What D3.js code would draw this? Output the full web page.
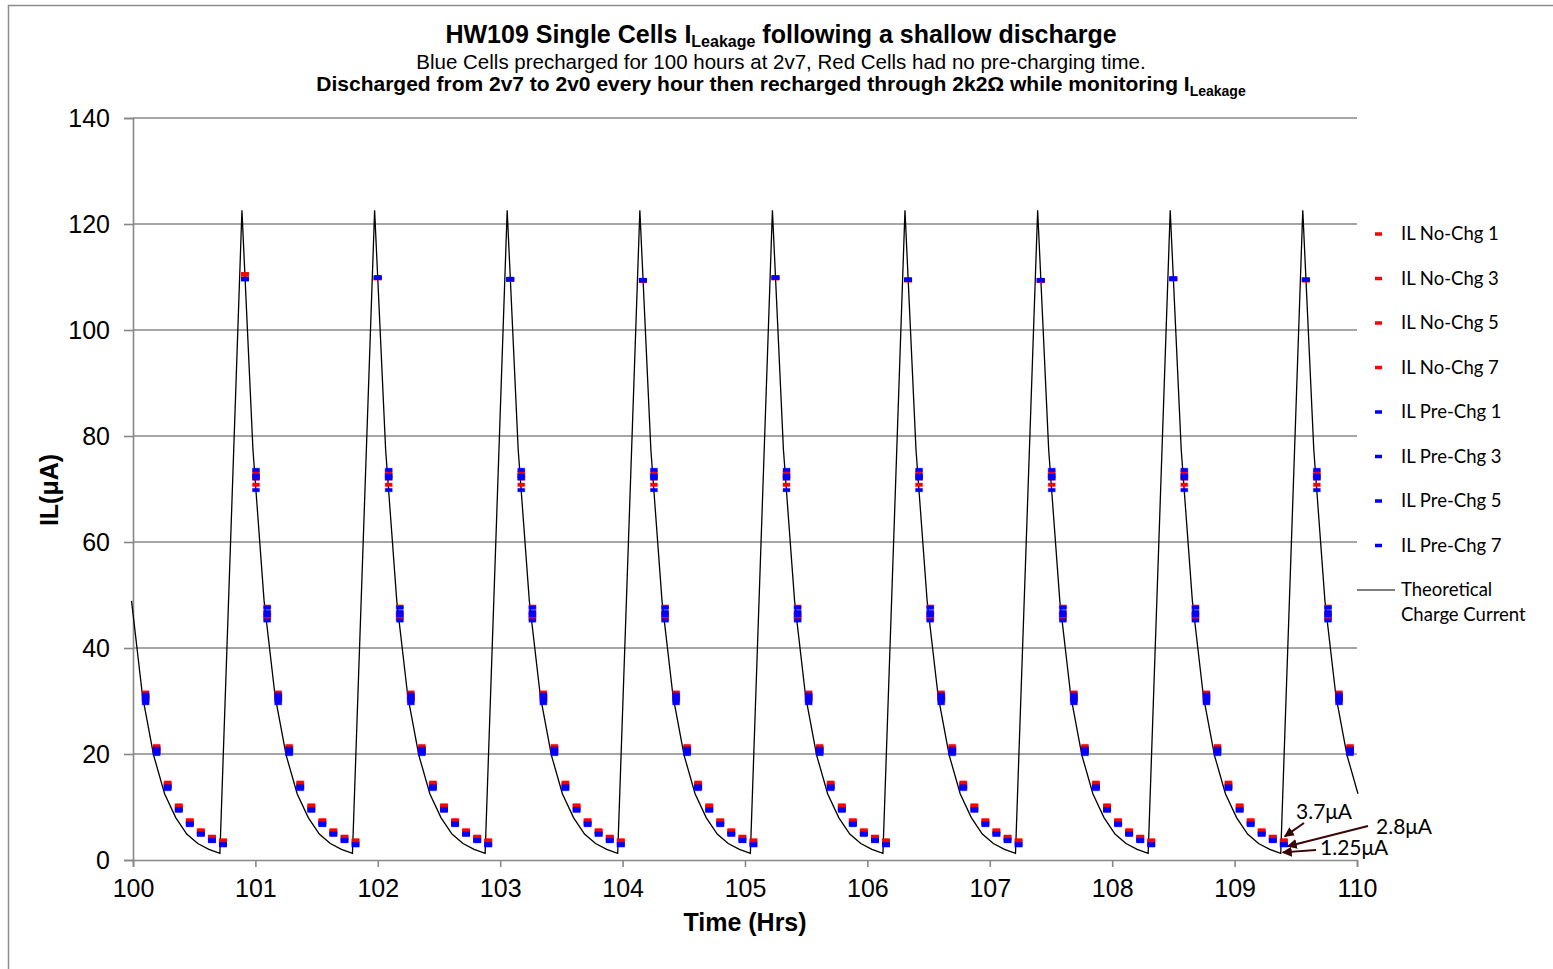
<!DOCTYPE html>
<html>
<head>
<meta charset="utf-8">
<script src="https://cdn.jsdelivr.net/npm/d3@7"></script>
<style>
  body { margin: 0; background: #fff; }
  text { font-family: "Liberation Sans", Arial, sans-serif; }
  .cal { font-family: Lato, "Open Sans", sans-serif; }
</style>
</head>
<body>
<svg id="chart" width="1553" height="969"></svg>
<script>
// peak times of the theoretical charge current (hrs), first one is before 100 h
var cyclePeakHrs = [99.807, 100.890, 101.974, 103.057, 104.141, 105.224, 106.307, 107.391, 108.474, 109.557];
// sample offsets inside one cycle (hrs after the peak)
var sampleOffsetHrs = [0, 0.090, 0.181, 0.271, 0.361, 0.451, 0.542, 0.632, 0.722, 0.813, 0.903];
var readingLagHrs = 0.025;

var theoryCycle = [122.6, 77.4, 48.9, 30.9, 19.8, 12.5, 8.0, 4.9, 3.1, 2.0, 1.25];

// first reading of every cycle (index 0 = the part-cycle before 100 h)
var peakNoChg  = [null, 110.5, 109.8, 109.5, 109.3, 109.8, 109.4, 109.3, 109.6, 109.4];
var peakPreChg = [null, 109.6, 109.9, 109.6, 109.4, 109.9, 109.5, 109.4, 109.7, 109.5];

// readings 2..11 of each cycle
var noChg1  = [73.1, 47.8, 31.6, 21.5, 14.6, 10.3, 7.5, 5.6, 4.4, 3.7];
var noChg3  = [72.6, 46.6, 31.0, 21.2, 14.4, 10.2, 7.4, 5.5, 4.3, 3.6];
var noChg5  = [72.0, 46.0, 30.8, 21.0, 14.3, 10.1, 7.3, 5.4, 4.3, 3.6];
var noChg7  = [70.8, 45.6, 30.2, 20.6, 14.1, 10.0, 7.2, 5.3, 4.2, 3.5];
var preChg1 = [73.6, 47.6, 31.2, 21.0, 13.9, 9.6, 6.9, 5.0, 3.8, 3.0];
var preChg3 = [72.5, 46.8, 30.6, 20.6, 13.7, 9.5, 6.8, 4.9, 3.7, 2.9];
var preChg5 = [72.0, 46.2, 30.2, 20.3, 13.6, 9.4, 6.7, 4.8, 3.6, 2.8];
var preChg7 = [69.8, 45.2, 29.6, 20.0, 13.4, 9.3, 6.6, 4.8, 3.6, 2.8];

var seriesNames = ["IL No-Chg 1", "IL No-Chg 3", "IL No-Chg 5", "IL No-Chg 7",
                   "IL Pre-Chg 1", "IL Pre-Chg 3", "IL Pre-Chg 5", "IL Pre-Chg 7"];
var seriesVals = [noChg1, noChg3, noChg5, noChg7, preChg1, preChg3, preChg5, preChg7];
var yTicks = [0, 20, 40, 60, 80, 100, 120, 140];
var xTicks = [100, 101, 102, 103, 104, 105, 106, 107, 108, 109, 110];

var notes = [
  {label: "3.7μA",  value: 3.7},
  {label: "2.8μA",  value: 2.8},
  {label: "1.25μA", value: 1.25}
];

var svg = d3.select("#chart");
var x = d3.scaleLinear().domain([100, 110]).range([133, 1357]);
var y = d3.scaleLinear().domain([0, 140]).range([860, 118]);

// outer frame
svg.append("rect").attr("x", 8.5).attr("y", 5.5).attr("width", 1600).attr("height", 1000)
  .attr("fill", "none").attr("stroke", "#8c8c8c").attr("stroke-width", 1.5);

// grid
svg.append("g").selectAll("line").data(yTicks.filter(function(d){ return d > 0; }))
  .join("line")
  .attr("x1", x(100)).attr("x2", x(110))
  .attr("y1", function(d){ return y(d); }).attr("y2", function(d){ return y(d); })
  .attr("stroke", "#888").attr("stroke-width", 1.6);

var yAxis = svg.append("g").attr("transform", "translate(" + x(100) + ",0)")
  .call(d3.axisLeft(y).tickValues(yTicks).tickSize(9).tickPadding(14));
var xAxis = svg.append("g").attr("transform", "translate(0," + y(0) + ")")
  .call(d3.axisBottom(x).tickValues(xTicks).tickSize(7).tickPadding(12).tickFormat(d3.format("d")));
[yAxis, xAxis].forEach(function(a){
  a.select(".domain").attr("stroke", "#888").attr("stroke-width", 1.6);
  a.selectAll(".tick line").attr("stroke", "#888").attr("stroke-width", 1.6);
  a.selectAll("text").attr("fill", "#000").style("font-size", "25px")
    .style("font-family", '"Liberation Sans", Arial, sans-serif');
});

// theoretical line
var theory = [];
cyclePeakHrs.forEach(function(p){
  theoryCycle.forEach(function(v, j){
    var t = p + sampleOffsetHrs[j];
    if (t >= 99.98 && t <= 110.02) theory.push([t, v]);
  });
});
svg.append("path").datum(theory)
  .attr("d", d3.line().x(function(d){ return x(d[0]); }).y(function(d){ return y(d[1]); }))
  .attr("fill", "none").attr("stroke", "#000").attr("stroke-width", 1.3);

// readings
function readings(si) {
  var pts = [];
  var peaks = si < 4 ? peakNoChg : peakPreChg;
  cyclePeakHrs.forEach(function(p, c){
    sampleOffsetHrs.forEach(function(o, j){
      var t = p + readingLagHrs + o;
      if (t < 100.05 || t > 110) return;
      var v = j === 0 ? peaks[c] : seriesVals[si][j - 1];
      if (v == null) return;
      pts.push([t, v]);
    });
  });
  return pts;
}
var color = function(si){ return si < 4 ? "#ff0000" : "#0000ff"; };
seriesVals.forEach(function(vals, si){
  svg.append("g").selectAll("rect").data(readings(si)).join("rect")
    .attr("x", function(d){ return x(d[0]) - 3.5; })
    .attr("y", function(d){ return y(d[1]) - 1.75; })
    .attr("width", 7).attr("height", 3.5)
    .attr("fill", color(si))
    .attr("stroke", color(si)).attr("stroke-opacity", 0.35).attr("stroke-width", 1);
});

// titles
var t1 = svg.append("text").attr("x", 781).attr("y", 43).attr("text-anchor", "middle")
  .style("font-weight", "bold").style("font-size", "25px");
t1.append("tspan").text("HW109 Single Cells I");
t1.append("tspan").attr("dy", 4).style("font-size", "16px").text("Leakage");
t1.append("tspan").attr("dy", -4).text(" following a shallow discharge");

svg.append("text").attr("x", 781).attr("y", 69).attr("text-anchor", "middle")
  .style("font-size", "20.5px").text("Blue Cells precharged for 100 hours at 2v7, Red Cells had no pre-charging time.");

var t3 = svg.append("text").attr("x", 781).attr("y", 91).attr("text-anchor", "middle")
  .style("font-weight", "bold").style("font-size", "21px");
t3.append("tspan").text("Discharged from 2v7 to 2v0 every hour then recharged through 2k2Ω while monitoring I");
t3.append("tspan").attr("dy", 5).style("font-size", "14px").text("Leakage");

// axis titles
svg.append("text").attr("transform", "translate(58,490) rotate(-90)").attr("text-anchor", "middle")
  .style("font-weight", "bold").style("font-size", "25px").text("IL(μA)");
svg.append("text").attr("x", 745).attr("y", 931).attr("text-anchor", "middle")
  .style("font-weight", "bold").style("font-size", "25px").text("Time (Hrs)");

// legend
var leg = svg.append("g");
seriesNames.forEach(function(n, i){
  var ly = 234 + i * 44.5;
  leg.append("rect").attr("x", 1375).attr("y", ly - 1.75).attr("width", 7).attr("height", 3.5)
    .attr("fill", color(i));
  leg.append("text").attr("class", "cal").attr("x", 1401).attr("y", ly + 6)
    .style("font-size", "18.5px").text(n);
});
leg.append("line").attr("x1", 1357).attr("x2", 1395).attr("y1", 590).attr("y2", 590)
  .attr("stroke", "#555").attr("stroke-width", 1.3);
leg.append("text").attr("class", "cal").attr("x", 1401).attr("y", 596).style("font-size", "18.5px").text("Theoretical");
leg.append("text").attr("class", "cal").attr("x", 1401).attr("y", 621).style("font-size", "18.5px").text("Charge Current");

// annotations on the last trough
var defs = svg.append("defs");
defs.append("marker").attr("id", "ah").attr("viewBox", "0 0 10 10").attr("refX", 9).attr("refY", 5)
  .attr("markerWidth", 5).attr("markerHeight", 5).attr("orient", "auto")
  .append("path").attr("d", "M0,0L10,5L0,10z").attr("fill", "#3a0606");
var tRead = cyclePeakHrs[8] + readingLagHrs + sampleOffsetHrs[10];
var tTrough = cyclePeakHrs[8] + sampleOffsetHrs[10];
var noteGeo = [
  {tx: 1296, ty: 819, x1: 1304, y1: 823, x2: x(tRead) + 1, y2: y(notes[0].value) - 4},
  {tx: 1376, ty: 834, x1: 1368, y1: 826, x2: x(tRead) + 4, y2: y(notes[1].value) + 1},
  {tx: 1320, ty: 855, x1: 1316, y1: 850, x2: x(tTrough) + 2, y2: y(notes[2].value) - 1}
];
notes.forEach(function(n, i){
  var g = noteGeo[i];
  svg.append("line").attr("x1", g.x1).attr("y1", g.y1).attr("x2", g.x2).attr("y2", g.y2)
    .attr("stroke", "#3a0606").attr("stroke-width", 2).attr("marker-end", "url(#ah)");
  svg.append("text").attr("class", "cal").attr("x", g.tx).attr("y", g.ty)
    .style("font-size", "21px").text(n.label);
});
</script>
</body>
</html>
